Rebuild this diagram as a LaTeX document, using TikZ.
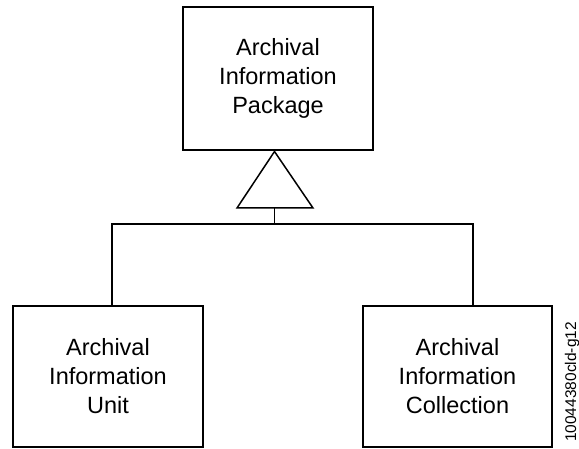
\documentclass[tikz,border=0pt]{standalone}
\usepackage{fontspec}
\setmainfont{Liberation Sans}
\begin{document}
\begin{tikzpicture}[x=1pt,y=-1pt,
  box/.style={draw=black, line width=1.5pt, fill=white, inner sep=0pt, align=center,
    font=\fontsize{23.5}{29}\selectfont},
  conn/.style={draw=black, line width=1.5pt},
  tag/.style={font=\fontsize{15.5}{18}\selectfont, rotate=90, inner sep=0pt}]
\useasboundingbox (0,0) rectangle (579,449);
\node[box, minimum width=190pt, minimum height=143pt] (top) at (278,78.5) {Archival\\Information\\Package};
\node[box, minimum width=190pt, minimum height=141pt] (left) at (108,376.5) {Archival\\Information\\Unit};
\node[box, minimum width=189pt, minimum height=141pt] (right) at (457.5,376.5) {Archival\\Information\\Collection};
\coordinate (apex) at (274.5,151.5);
\coordinate (bl) at (237,208);
\coordinate (br) at (313,208);
\coordinate (bm) at (274.5,208);
\coordinate (busm) at (274.5,224);
\coordinate (busl) at (112,224);
\coordinate (busr) at (473,224);
\draw[conn, line join=miter] (apex) -- (bl) -- (br) -- cycle;
\draw[conn] (bm) -- (busm);
\draw[conn, line join=miter] (busl |- left.north) -- (busl) -- (busr) -- (busr |- right.north);
\node[tag] (id) at (572,382) {10044380cld-g12};
\end{tikzpicture}
\end{document}
